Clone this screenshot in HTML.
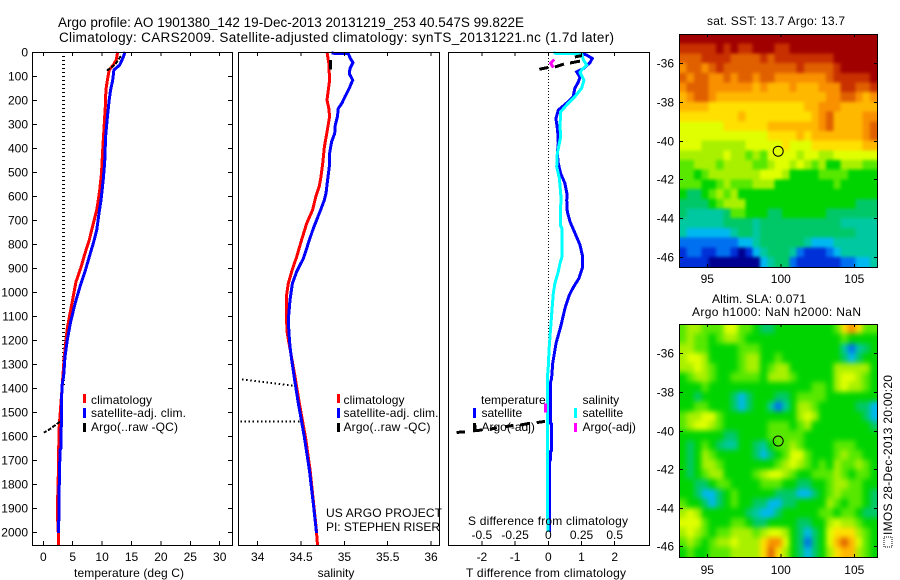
<!DOCTYPE html>
<html lang="en">
<head>
<meta charset="utf-8">
<title>Argo profile</title>
<style>
html,body{margin:0;padding:0;background:#fff;width:900px;height:580px;overflow:hidden}
svg{display:block}
text{font-family:"Liberation Sans",sans-serif;font-size:12px;fill:#000}
.t{font-size:13.5px}
.m{text-anchor:middle}
.e{text-anchor:end}
</style>
</head>
<body>
<svg id="chart" xmlns="http://www.w3.org/2000/svg" width="900" height="580" viewBox="0 0 900 580">
  <defs>
    <filter id="soft-sst" color-interpolation-filters="sRGB"><feGaussianBlur stdDeviation="1.6"/></filter>
    <filter id="soft-sla" color-interpolation-filters="sRGB"><feGaussianBlur stdDeviation="2.6"/></filter>
    <clipPath id="clip-sst"><rect x="679" y="34" width="199" height="233"/></clipPath>
    <clipPath id="clip-sla"><rect x="679" y="324" width="199" height="233"/></clipPath>
  </defs>
  <rect width="900" height="580" fill="#fff"/>
  <g id="maps">
    <g clip-path="url(#clip-sst)"><g id="sst-cells" filter="url(#soft-sst)"></g></g>
    <g clip-path="url(#clip-sla)"><g id="sla-cells" filter="url(#soft-sla)"></g></g>
  </g>
  <g id="plots"></g>
  <g id="frames"></g>

  <text class="t" x="58" y="27" textLength="466">Argo profile: AO 1901380_142 19-Dec-2013 20131219_253 40.547S 99.822E</text>
  <text class="t" x="59" y="42" textLength="555">Climatology: CARS2009. Satellite-adjusted climatology: synTS_20131221.nc (1.7d later)</text>

  <text class="m" x="129" y="577" textLength="110">temperature (deg C)</text>
  <text class="m" x="336" y="577">salinity</text>
  <text class="m" x="546" y="577" textLength="160">T difference from climatology</text>
  <text class="m" x="548" y="525" textLength="160">S difference from climatology</text>

  <g>
    <rect x="83" y="394" width="3" height="9" fill="#f00"/>
    <text x="91" y="404" textLength="61">climatology</text>
    <rect x="83" y="408" width="3" height="10" fill="#00f"/>
    <text x="91" y="417" textLength="95">satellite-adj. clim.</text>
    <rect x="83" y="423" width="3" height="9" fill="#000"/>
    <text x="91" y="431" textLength="87">Argo(..raw -QC)</text>
  </g>
  <g>
    <rect x="337" y="394" width="3" height="9" fill="#f00"/>
    <text x="343.5" y="404" textLength="61">climatology</text>
    <rect x="337" y="408" width="3" height="10" fill="#00f"/>
    <text x="343.5" y="417" textLength="95">satellite-adj. clim.</text>
    <rect x="337" y="423" width="3" height="9" fill="#000"/>
    <text x="343.5" y="431" textLength="87">Argo(..raw -QC)</text>
  </g>
  <text x="326" y="517" textLength="116">US ARGO PROJECT</text>
  <text x="326" y="531" textLength="114">PI: STEPHEN RISER</text>

  <g>
    <text x="481" y="404">temperature</text>
    <rect x="473" y="408" width="3" height="10" fill="#00f"/>
    <text x="481.5" y="417">satellite</text>
    <rect x="473" y="423" width="3" height="9" fill="#000"/>
    <text x="481.5" y="431">Argo(-adj)</text>
    <text x="582.5" y="404">salinity</text>
    <rect x="574" y="408" width="3" height="10" fill="#0ff"/>
    <text x="582.5" y="417">satellite</text>
    <rect x="574" y="423" width="3" height="9" fill="#f0f"/>
    <text x="582.5" y="431">Argo(-adj)</text>
  </g>

  <text class="m" x="776" y="25" textLength="138">sat. SST: 13.7 Argo: 13.7</text>
  <text class="m" x="759" y="303" textLength="94">Altim. SLA: 0.071</text>
  <text class="m" x="776.5" y="316" textLength="169">Argo h1000: NaN h2000: NaN</text>

  <g>
    <rect x="884" y="537" width="8" height="10" fill="#fff" stroke="#000" stroke-width="1" stroke-dasharray="1 1"/>
    <text transform="translate(892 535) rotate(-90)" textLength="160">IMOS 28-Dec-2013 20:00:20</text>
  </g>
</svg>

<script>
// ---------- chart data ----------
const depthTicks = [0,100,200,300,400,500,600,700,800,900,1000,1100,1200,1300,1400,1500,1600,1700,1800,1900,2000];
const tempTicks = [0,5,10,15,20,25,30];
const salTicks = [34,34.5,35,35.5,36];
const tDiffTicks = [-2,-1,0,1,2];
const sDiffTicks = [-0.5,-0.25,0,0.25,0.5];
const lonTicks = [95,100,105];
const latTicks = [-36,-38,-40,-42,-44,-46];

const tempClimDepth = [0,33,54,75,117,158,228,325,408,505,575,617,658,714,783,839,901,957,1033,1089,1151,1214,1283,1400,1554,1650,1729,1854,1950,2004,2055];
const tempClim = [12.65,12.4,11.9,11.2,10.9,10.65,10.55,10.3,10.1,9.9,9.6,9.36,9.08,8.51,7.83,7.09,6.36,5.56,4.99,4.54,4.09,3.8,3.52,3.2,2.72,2.62,2.58,2.45,2.45,2.55,2.55];
const tempSatDepth = [0,21,54,75,117,158,200,269,352,458,530,617,672,742,797,853,915,978,1040,1124,1200,1269,1353,1381,1458,1547,1650,1658,1854,1950,1955,2004];
const tempSat = [13.9,13.6,13,12,11.8,11.45,11.2,10.9,10.6,10.45,10.2,9.81,9.47,9.08,8.51,7.83,7.09,6.24,5.5,4.65,4.09,3.69,3.46,3.23,3.06,3.06,3.01,2.84,2.67,2.67,2.55,2.55];
const tempArgoDepth = [17,30,50,78,null,1540,1552,1564,1575,1586];
const tempArgo = [13.2,12.8,12.3,10.8,null,2.84,2.2,1.5,0.9,0.1];
const tempRefDepth = [0,1390];
const tempRef = [3.45,3.45];

const salClimDepth = [0,47,117,200,235,269,311,353,394,464,519,561,603,658,714,783,853,915,964,1013,1124,1173,1353,1463,1603,1742,1881,1985,2055];
const salClim = [34.8,34.82,34.83,34.8,34.82,34.83,34.81,34.79,34.77,34.75,34.73,34.71,34.67,34.634,34.565,34.507,34.45,34.392,34.353,34.334,34.334,34.342,34.43,34.48,34.55,34.605,34.645,34.675,34.69];
const salSatDepth = [5,7,27,44,69,90,117,151,186,214,235,269,304,339,374,422,478,533,589,617,665,735,797,860,915,964,1033,1117,1173,1228,1283,1360,1463,1603,1742,1881,1985,2004];
const salSat = [34.853,35.045,35.07,35.1,35.065,35.057,35.096,35.057,35.007,34.97,34.93,34.92,34.895,34.888,34.853,34.83,34.826,34.807,34.788,34.769,34.719,34.642,34.584,34.527,34.45,34.4,34.373,34.353,34.361,34.373,34.392,34.423,34.469,34.538,34.596,34.642,34.673,34.678];
const salArgoDepth = [33,72];
const salArgo = [34.84,34.84];
const salArgoDots1Depth = [1364,1390];
const salArgoDots1 = [33.82,34.41];
const salArgoDots2Depth = [1540,1540];
const salArgoDots2 = [33.8,34.49];

const tDiffSatDepth = [5,13,27,44,69,83,104,125,151,186,207,242,277,325,380,422,464,505,547,596,617,665,707,755,804,853,901,943,981,1013,1068,1144,1214,1297,1360,1380,1547,1550,1660,1665,1700,1705,2000];
const tDiffSat = [1.005,1.155,1.326,1.256,1.055,0.855,0.955,0.905,0.8,0.75,0.6,0.3,0.23,0.28,0.3,0.27,0.3,0.37,0.5,0.57,0.553,0.573,0.653,0.804,0.955,1.035,1.025,0.925,0.754,0.633,0.503,0.373,0.232,0.132,0.1,0.06,0.06,0.1,0.1,0.06,0.06,0.04,0.04];
const sDiffSatDepth = [5,8,33,54,75,86,117,151,186,221,249,311,353,422,478,526,589,617,672,721,735,853,881,915,964,1006,1075,1131,1186,1242,1311,1360,1900,2000];
const sDiffSat = [0.038,0.251,0.264,0.289,0.251,0.239,0.269,0.251,0.2,0.138,0.093,0.088,0.093,0.068,0.063,0.083,0.093,0.096,0.09,0.09,0.103,0.103,0.088,0.0755,0.05,0.038,0.028,0.02,0.013,0.005,0,-0.0075,-0.0075,0];
const tDiffArgoDepth = [15,21,null,38,46,null,50,63,null,64,72,null,1539,1544,null,1547,1554,null,1556,1561,null,1565,1572,null,1554,1578,1575,null,1583,1585];
const tDiffArgo = [1.005,0.8,null,0.955,0.654,null,0.473,0.2,null,0,-0.27,null,-0.1,-0.35,null,-0.55,-0.85,null,-1.05,-1.3,null,-1.55,-1.76,null,-2.21,-2.21,-2,null,-2.51,-2.76];
const sDiffArgoDepth = [31,47,65,null,1464,1503];
const sDiffArgo = [0.045,0.018,0.038,null,-0.022,-0.022];
const zeroLineDepth = [0,1320];
const zeroLine = [0,0];

const floatLon = 99.822;
const floatLat = -40.547;

const sstValues = [
[15,15,15,15,15,15,15,15,15,15,15,15,15,15,15,15,15,15,15,15,15,15,15,15,15,15,15],
[14,14,14,14,14,15,14,15,14,14,15,15,15,14,14,15,15,15,15,15,15,15,15,15,15,15,15],
[13,13,13,14,14,14,14,13,13,13,13,14,13,14,14,14,14,14,14,14,14,15,15,15,15,15,15],
[12,13,13,12,13,14,13,13,13,13,13,13,13,13,13,13,14,13,13,13,13,14,15,15,15,15,15],
[13,12,13,13,12,12,13,12,13,13,12,13,13,12,12,12,12,12,12,12,13,14,14,14,14,14,15],
[12,13,13,13,12,12,12,12,12,12,11,12,11,11,11,12,11,11,11,12,12,12,14,14,13,13,14],
[11,12,13,13,12,11,11,11,11,11,11,11,11,11,11,11,11,11,11,11,12,12,13,13,12,11,12],
[11,11,11,11,10,10,10,10,10,10,10,10,10,10,10,10,10,11,11,12,12,12,11,11,11,11,11],
[10,10,10,10,10,10,10,10,11,10,10,10,10,10,10,10,10,10,11,12,13,11,11,11,11,12,12],
[9,9,9,9,9,9,10,10,10,10,10,10,11,11,11,11,11,11,11,12,13,11,11,11,11,12,13],
[9,9,9,9,9,9,9,9,9,9,9,9,10,10,10,10,11,10,11,11,11,11,11,11,11,12,13],
[9,9,9,8,8,8,8,8,8,9,9,9,9,9,10,9,9,9,10,10,10,10,10,10,10,11,11],
[8,8,8,8,8,8,9,8,8,7,8,7,9,9,9,9,8,9,9,8,8,9,9,9,9,9,9],
[7,7,8,8,8,7,8,8,8,8,7,7,8,9,9,8,9,8,7,8,6,6,8,8,8,7,7],
[7,7,6,7,8,8,8,8,8,8,8,9,9,9,8,6,6,6,6,7,7,7,7,6,6,6,6],
[7,7,7,6,6,7,8,7,7,7,8,8,8,6,6,6,6,6,6,6,6,7,6,6,6,6,6],
[6,5,5,6,7,8,7,8,6,6,6,6,6,6,6,6,6,6,6,6,6,6,6,6,6,6,6],
[5,5,5,5,6,7,8,8,8,6,6,6,6,6,6,6,6,6,6,6,6,6,6,6,5,5,5],
[5,4,4,4,4,4,5,7,7,6,6,6,5,5,6,6,6,6,6,6,5,5,5,5,5,5,5],
[4,4,4,4,4,4,5,5,5,5,4,5,5,5,5,5,5,5,5,5,5,5,4,4,4,4,4],
[4,3,3,3,3,3,3,4,5,5,4,5,5,5,5,5,5,5,5,5,5,5,5,5,4,4,4],
[2,2,2,2,2,2,2,2,3,3,4,5,5,5,5,5,5,4,3,3,3,4,4,4,4,4,4],
[1,2,2,1,1,2,2,1,0,1,3,4,5,5,5,4,2,1,1,1,2,3,4,4,4,4,4],
[1,1,1,1,0,0,0,0,0,0,0,3,4,5,5,2,1,1,1,1,1,1,2,2,3,3,4]
];
const slaValues = [
[7,8,8,7,7,7,9,9,7,7,6,5,5,6,6,6,6,6,6,6,6,7,10,12,10,7,7],
[7,8,7,7,6,7,8,8,7,6,6,6,6,6,6,6,6,6,6,6,6,6,7,6,6,6,6],
[8,8,7,7,6,6,6,6,7,7,7,6,6,6,6,6,6,6,6,6,6,6,4,2,4,5,6],
[8,9,9,8,6,6,6,6,7,8,8,6,6,7,6,6,6,6,6,6,6,6,5,3,5,6,6],
[8,8,9,8,7,6,6,6,7,8,8,6,7,8,8,6,6,6,6,6,6,8,8,8,8,8,6],
[6,7,8,8,7,6,6,7,7,7,7,6,8,8,8,7,6,6,6,6,6,8,9,9,8,7,6],
[6,6,6,7,6,6,6,6,6,6,6,6,6,6,6,6,6,6,7,7,6,8,9,8,8,7,6],
[6,6,5,6,6,6,6,5,3,5,6,6,6,5,5,6,7,7,7,7,6,6,6,6,6,6,6],
[6,6,7,7,6,6,6,5,3,5,6,6,4,2,4,6,8,8,7,6,6,6,6,6,5,5,3],
[7,8,8,9,9,7,6,6,6,6,6,6,6,6,6,6,8,9,8,6,6,6,6,6,6,5,3],
[7,8,9,9,8,7,6,6,6,6,6,6,7,7,7,6,7,8,6,6,6,6,6,6,6,6,5],
[6,6,6,6,6,6,5,5,6,6,6,6,7,7,7,7,7,6,6,6,6,6,6,6,6,6,6],
[6,5,6,7,6,5,4,4,6,6,5,4,6,7,7,8,7,6,6,6,6,7,7,7,6,6,6],
[6,5,6,8,7,6,6,6,6,6,5,3,5,6,7,9,9,7,6,6,6,7,8,7,7,6,6],
[6,5,6,8,8,7,6,6,6,6,6,6,6,7,8,9,8,7,6,7,6,8,7,7,8,7,6],
[6,5,6,7,8,8,6,6,6,6,7,8,9,9,8,7,6,6,7,7,7,8,7,6,7,7,6],
[6,6,5,5,6,7,7,6,6,6,6,7,7,7,6,6,5,5,6,6,7,8,8,7,7,6,6],
[6,6,5,3,3,5,6,7,6,6,6,6,6,5,5,5,3,3,5,6,7,8,7,7,7,6,5],
[7,6,6,5,3,5,6,7,6,6,5,5,3,3,5,5,6,6,6,6,8,7,6,7,7,6,5],
[8,9,8,6,6,6,6,6,6,5,4,3,3,5,6,6,6,6,6,7,7,6,7,7,6,5,5],
[9,9,9,7,6,6,6,7,7,6,5,5,6,6,6,6,5,5,6,6,8,9,8,8,7,6,6],
[8,9,8,7,6,7,7,8,8,8,7,8,9,9,8,6,5,3,5,6,9,10,10,10,8,7,6],
[7,8,7,6,7,8,8,9,8,8,8,10,12,12,9,6,5,2,5,6,9,11,13,11,9,7,6],
[6,7,6,6,7,7,7,8,8,8,8,10,13,10,8,6,5,3,5,6,8,10,11,11,8,7,6]
];

// ---------- appearance and axes ----------
const palette = ['#000090','#0030d8','#0070f0','#00b8f0','#00c8a0','#00c868','#00d400','#58e800','#a8f000','#e0ff00','#ffe000','#ffb800','#f89000','#e06000','#c83000','#a00000'];
const NS = 'http://www.w3.org/2000/svg';
const plots = document.getElementById('plots');
const frames = document.getElementById('frames');

const panelTop = 52, panelBottom = 545;
const yDepth = d => 52 + 0.24 * d;
const xTemp = v => 43.3 + 5.88 * v;
const xSal = v => 257.7 + 86.67 * (v - 34);
const xTd = v => 548.3 + 33.2 * v;
const xSd = v => 548.3 + 132.8 * v;
const xLon = v => 707.3 + 14.7 * (v - 95);
const ySst = v => 63.3 + 19.33 * (-36 - v);
const ySla = v => 353.3 + 19.3 * (-36 - v);

function make(tag, attrs, parent) {
  const el = document.createElementNS(NS, tag);
  for (const k in attrs) el.setAttribute(k, attrs[k]);
  parent.appendChild(el);
  return el;
}
function tracePath(values, depths, xf) {
  let d = '', pen = false;
  values.forEach((v, i) => {
    if (v === null) { pen = false; return; }
    d += (pen ? 'L' : 'M') + xf(v).toFixed(1) + ' ' + yDepth(depths[i]).toFixed(1);
    pen = true;
  });
  return d;
}
function series(values, depths, xf, color, width, dash) {
  const el = make('path', {d: tracePath(values, depths, xf), fill: 'none', stroke: color, 'stroke-width': width, 'shape-rendering': 'crispEdges'}, plots);
  if (dash) el.setAttribute('stroke-dasharray', dash);
  return el;
}
function label(x, y, txt, cls, parent) {
  const el = make('text', {x: x, y: y, class: cls}, parent);
  el.textContent = txt;
  return el;
}
function line(x1, y1, x2, y2, parent) {
  return make('line', {x1: x1, y1: y1, x2: x2, y2: y2, stroke: '#000', 'stroke-width': 1, 'shape-rendering': 'crispEdges'}, parent);
}

// ---------- profile series ----------
let s;
s = series(tempRef, tempRefDepth, xTemp, '#000', 3, '1 3');


s = series(tempClim, tempClimDepth, xTemp, '#f00', 3);


s = series(tempArgo, tempArgoDepth, xTemp, '#000', 2, '4 1.5');


s = series(tempSat, tempSatDepth, xTemp, '#00f', 3);



s = series(salClim, salClimDepth, xSal, '#f00', 3);


s = series(salSat, salSatDepth, xSal, '#00f', 3);


s = series(salArgo, salArgoDepth, xSal, '#000', 3);


s = series(salArgoDots1, salArgoDots1Depth, xSal, '#000', 2, '1.5 2.6');


s = series(salArgoDots2, salArgoDots2Depth, xSal, '#000', 2, '1.5 2.6');



s = series(zeroLine, zeroLineDepth, xTd, '#000', 1, '1 2');


s = series(tDiffSat, tDiffSatDepth, xTd, '#00f', 3);


s = series(sDiffSat, sDiffSatDepth, xSd, '#0ff', 3);


s = series(sDiffArgo, sDiffArgoDepth, xSd, '#f0f', 3);


s = series(tDiffArgo, tDiffArgoDepth, xTd, '#000', 3);



// ---------- profile frames ----------
function frame(x0, x1, y0, y1, name) {
  const r = make('rect', {x: x0, y: y0, width: x1 - x0, height: y1 - y0, fill: 'none', stroke: '#000', 'stroke-width': 1, 'shape-rendering': 'crispEdges'}, frames);
  
  
}
function xTicks(ticks, xf, y0, y1, labelY, name) {
  ticks.forEach(v => {
    const a = line(xf(v), y0, xf(v), y0 + 4, frames);
    
    
    const b = line(xf(v), y1 - 4, xf(v), y1, frames);
    
    
    if (labelY) {
      const t = label(xf(v), labelY, String(v), 'm', frames);
      
      
    }
  });
}
frame(32.5, 232.5, panelTop + .5, panelBottom + .5, 'temperature-axes');
frame(238.5, 439.5, panelTop + .5, panelBottom + .5, 'salinity-axes');
frame(448.5, 649.5, panelTop + .5, panelBottom + .5, 't-difference-axes');
xTicks(tempTicks, xTemp, panelTop, panelBottom, 561, 'temperature-axis');
xTicks(salTicks, xSal, panelTop, panelBottom, 561, 'salinity-axis');
xTicks(tDiffTicks, xTd, panelTop, panelBottom, 561, 't-difference-axis');
sDiffTicks.forEach(v => {
  const t = label(xSd(v), 539, String(v), 'm', frames);
  
  
});
depthTicks.forEach(v => {
  const y = Math.round(yDepth(v)) + .5;
  const a = line(32, y, 37, y, frames);
  
  
  const b = line(228, y, 232, y, frames);
  
  
  const t = label(28, y + 4, String(v), 'e', frames);
  
  
});

// ---------- maps ----------
const mapLeft = 679.3, mapRight = 877.3, bleed = 12;
function heatmap(rows, top, bottom, parent, name) {
  const nr = rows.length, nc = rows[0].length;
  const cw = (mapRight - mapLeft) / nc;
  const ch = (bottom - top) / nr;
  rows.forEach((row, r) => row.forEach((v, c) => {
    const padL = c === 0 ? bleed : 0, padR = c === nc - 1 ? bleed : 0;
    const padT = r === 0 ? bleed : 0, padB = r === nr - 1 ? bleed : 0;
    const cell = make('rect', {x: (mapLeft + c * cw - padL).toFixed(2), y: (top + r * ch - padT).toFixed(2), width: (cw + .4 + padL + padR).toFixed(2), height: (ch + .4 + padT + padB).toFixed(2), fill: palette[Math.max(0, Math.min(palette.length - 1, Math.round(v)))], 'shape-rendering': 'crispEdges'}, parent);
    
    
  }));
}
function mapAxes(top, bottom, yf, name, labelY) {
  frame(679.5, 877.5, top + .5, bottom + .5, name + '-axes');
  lonTicks.forEach(v => {
    const a = line(xLon(v), top, xLon(v), top + 3, frames);
    
    
    const b = line(xLon(v), bottom - 3, xLon(v), bottom, frames);
    
    
    const t = label(xLon(v), labelY, String(v), 'm', frames);
    
    
  });
  latTicks.forEach(v => {
    const y = Math.round(yf(v)) + .5;
    const a = line(680, y, 683, y, frames);
    
    
    const b = line(874, y, 877, y, frames);
    
    
    const t = label(674, y + 4, String(v), 'e', frames);
    
    
  });
  const ring = make('circle', {cx: xLon(floatLon), cy: yf(floatLat), r: 5, fill: 'none', stroke: '#000', 'stroke-width': 1}, frames);
  
  
}
heatmap(sstValues, 34, 266.7, document.getElementById('sst-cells'), 'sst-map');
heatmap(slaValues, 324, 556.7, document.getElementById('sla-cells'), 'sla-map');
mapAxes(34, 267, ySst, 'sst-map', 283);
mapAxes(324, 557, ySla, 'sla-map', 574);
</script>
</body>
</html>
